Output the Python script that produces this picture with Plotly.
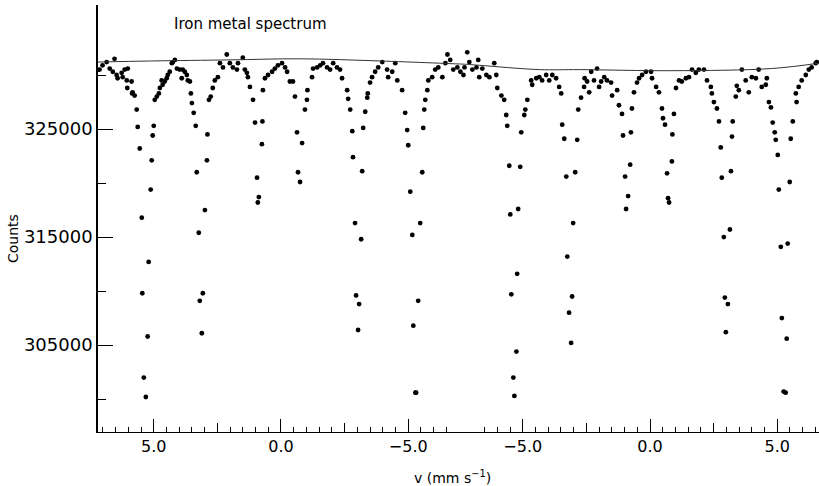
import plotly.graph_objects as go

# ---- data: first sweep half (velocity mm/s, counts) ----
v_half1 = [7.13, 7.01, 6.85, 6.73, 6.61, 6.54, 6.46, 6.42, 6.26, 6.22, 6.14, 6.06, 6.02, 6.04,
           5.87, 5.85, 5.83, 5.75, 5.67, 5.63, 5.55, 5.47, 5.45, 5.39, 5.31, 5.24, 5.20, 5.12,
           5.08, 5.04, 5.00, 4.96, 4.88, 4.80, 4.76, 4.69, 4.65, 4.57, 4.49, 4.45, 4.37, 4.29,
           4.25, 4.17, 4.09, 3.98, 3.90, 3.86, 3.78, 3.70, 3.66, 3.58, 3.54, 3.50, 3.43, 3.35,
           3.31, 3.23, 3.19, 3.11, 3.07, 2.99, 2.91, 2.89, 2.83, 2.76, 2.68, 2.60, 2.48, 2.40,
           2.28, 2.13, 2.01, 1.89, 1.73, 1.69, 1.50, 1.42, 1.34, 1.30, 1.22, 1.10, 1.02, 0.94,
           0.91, 0.87, 0.75, 0.73, 0.71, 0.63, 0.51, 0.35, 0.24, 0.12, -0.04, -0.16, -0.24,
           -0.35, -0.47, -0.55, -0.63, -0.67, -0.75, -0.83, -0.94, -1.02, -1.04, -1.22, -1.26,
           -1.42, -1.54, -1.65, -1.81, -1.93, -2.05, -2.20, -2.32, -2.40, -2.60, -2.64, -2.72,
           -2.80, -2.83, -2.91, -2.95, -3.03, -3.07, -3.15, -3.19, -3.23, -3.31, -3.39, -3.41,
           -3.50, -3.58, -3.70, -3.82, -3.98, -4.17, -4.21, -4.37, -4.49, -4.57, -4.76, -4.88,
           -4.96, -5.00, -5.08, -5.16, -5.20, -5.28, -5.31, -5.39, -5.47, -5.55, -5.59, -5.63,
           -5.67, -5.75, -5.79, -5.94, -6.06, -6.18, -6.34, -6.46, -6.54, -6.65, -6.77, -6.93,
           -7.05, -7.17]
counts_half1 = [330500, 330900, 331200, 330600, 330300, 331500, 330000, 329700, 330200, 329800,
                330500, 329500, 330600, 328800, 329400, 328300, 328400, 328100, 326800, 325200,
                323200, 316800, 309800, 302000, 300200, 305800, 312700, 319400, 322100, 324400,
                325300, 327700, 328000, 328300, 328800, 329500, 329100, 329400, 329700, 330000,
                330300, 331100, 331200, 331400, 330600, 330500, 329700, 330500, 330300, 330000,
                329500, 329400, 328300, 327400, 326500, 325300, 321000, 315400, 309100, 306100,
                309800, 317500, 322100, 324500, 327700, 328000, 328800, 329500, 329800, 331100,
                330700, 331900, 331100, 330700, 330500, 331100, 331600, 330500, 330200, 329800,
                328900, 327700, 325600, 320500, 318200, 318700, 323600, 325700, 328600, 329700,
                330000, 330300, 330600, 330900, 331100, 330700, 330300, 329400, 329400, 328000,
                324700, 321000, 320100, 323700, 326800, 327700, 328600, 329800, 330600, 330700,
                330900, 331100, 330700, 330500, 331100, 330700, 330500, 329700, 328600, 327800,
                326800, 324800, 322400, 316300, 309600, 306400, 308800, 314800, 321100, 325100,
                326600, 327900, 328300, 329300, 329800, 330300, 330700, 331200, 330500, 329800,
                330300, 331100, 329500, 328600, 326500, 324900, 323500, 319200, 315200, 306800,
                300600, 300600, 309100, 316300, 321000, 325100, 326800, 327700, 328600, 329500,
                329800, 330500, 330700, 329800, 331100, 331900, 331400, 330500, 330700, 330300,
                330000]

# ---- data: second sweep half (velocity mm/s, counts) ----
v_half2 = [-7.29, -7.18, -7.10, -6.98, -6.82, -6.75, -6.71, -6.59, -6.43, -6.31, -6.12, -6.04,
           -6.00, -5.84, -5.73, -5.65, -5.61, -5.53, -5.49, -5.45, -5.37, -5.33, -5.25, -5.22,
           -5.18, -5.10, -5.06, -4.94, -4.90, -4.82, -4.67, -4.63, -4.47, -4.35, -4.24, -4.08,
           -3.96, -3.84, -3.69, -3.57, -3.49, -3.45, -3.37, -3.29, -3.25, -3.18, -3.10, -3.06,
           -3.02, -2.94, -2.86, -2.82, -2.71, -2.59, -2.57, -2.47, -2.39, -2.31, -2.20, -2.08,
           -2.00, -1.92, -1.80, -1.69, -1.53, -1.49, -1.29, -1.22, -1.10, -1.06, -0.98, -0.94,
           -0.86, -0.78, -0.75, -0.71, -0.63, -0.51, -0.43, -0.31, -0.16, 0.04, 0.08, 0.24,
           0.35, 0.47, 0.51, 0.59, 0.67, 0.71, 0.75, 0.86, 0.88, 0.94, 1.02, 1.14, 1.25, 1.41,
           1.53, 1.65, 1.80, 1.92, 2.12, 2.24, 2.39, 2.43, 2.51, 2.63, 2.71, 2.78, 2.82, 2.90,
           2.94, 2.98, 3.06, 3.14, 3.18, 3.22, 3.25, 3.37, 3.41, 3.49, 3.61, 3.76, 3.88, 4.00,
           4.16, 4.27, 4.39, 4.55, 4.59, 4.67, 4.75, 4.82, 4.90, 4.94, 5.02, 5.06, 5.14, 5.18,
           5.25, 5.33, 5.37, 5.41, 5.49, 5.53, 5.61, 5.73, 5.76, 5.84, 5.96, 6.12, 6.24, 6.35,
           6.51, 6.55]
counts_half2 = [330700, 332100, 331200, 330500, 330700, 331400, 329800, 330600, 330000, 329800,
                331100, 330000, 328800, 328100, 327700, 326300, 325300, 321600, 317100, 309700,
                302000, 300300, 304400, 311600, 317600, 321500, 324700, 326300, 326800, 327700,
                329500, 329100, 329700, 329800, 329500, 330000, 329500, 330000, 329700, 328900,
                328300, 325400, 324100, 320600, 313200, 308000, 305200, 309500, 316300, 321000,
                324000, 326800, 327900, 328900, 329700, 329400, 328400, 330300, 329500, 330600,
                328900, 329400, 329800, 329500, 329300, 328100, 328600, 327200, 326400, 324400,
                320600, 317600, 318800, 321700, 324700, 326900, 328400, 329300, 329700, 330000,
                330300, 330300, 329700, 328900, 328400, 326900, 326000, 325400, 320900, 318600,
                318200, 322000, 324500, 326400, 328800, 329500, 329400, 329700, 329800, 330500,
                330200, 330500, 330500, 329500, 328900, 328300, 327500, 326900, 325700, 323300,
                320500, 315000, 309400, 306200, 308800, 315700, 321100, 324300, 325700, 328000,
                329000, 328600, 330500, 329500, 328400, 329800, 329700, 330500, 328900, 329100,
                329700, 327500, 327000, 325600, 324700, 324000, 322600, 319400, 314100, 307500,
                300700, 300600, 305600, 314400, 320100, 324100, 325700, 328300, 327500, 328900,
                329500, 330000, 330500, 330700, 331100, 331200]

# ---- baseline fit curve ----
fit_v_half1 = [7.20, 5.08, 2.00, -0.75, -3.90, -7.22]
fit_counts_half1 = [331200, 331300, 331400, 331500, 331300, 331000]
fit_v_half2 = [-7.28, -6.70, -4.35, -2.78, 0.86, 4.78, 6.64]
fit_counts_half2 = [331000, 330900, 330500, 330500, 330400, 330600, 331100]

# ---- axis labels ----
x_tick_velocity_half1 = [5.0, 0.0, -5.0]
x_tick_velocity_half2 = [-5.0, 0.0, 5.0]
y_major_ticks = [305000, 315000, 325000]
y_minor_ticks = [300000, 310000, 320000, 330000]

FOLD = 14.5  # the second sweep continues after the turning point at -7.25 mm/s


def pos1(v):
    return -v


def pos2(v):
    return v + FOLD


x1 = [pos1(v) for v in v_half1]
x2 = [pos2(v) for v in v_half2]
xf = [pos1(v) for v in fit_v_half1] + [pos2(v) for v in fit_v_half2]
yf = fit_counts_half1 + fit_counts_half2

FONT = "DejaVu Sans"
XR = [-7.19, 21.14]
YR = [296960, 336480]

fig = go.Figure()
fig.add_trace(go.Scatter(x=xf, y=yf, mode="lines", line=dict(color="#333", width=1, shape="spline"),
                         xaxis="x2", hoverinfo="skip", showlegend=False))
fig.add_trace(go.Scatter(x=x1 + x2, y=counts_half1 + counts_half2, mode="markers",
                         marker=dict(color="black", size=4.8), showlegend=False))

tickvals = [pos1(v) for v in x_tick_velocity_half1] + [pos2(v) for v in x_tick_velocity_half2]
ticktext = [("\u2212" if v < 0 else "") + f"{abs(v):.1f}" for v in x_tick_velocity_half1 + x_tick_velocity_half2]

minor_vals = []
k = -14
while k * 0.5 <= 21.0:
    u = k * 0.5
    if not (6.6 < u < 7.9) and all(abs(u - t) > 1e-6 for t in tickvals):
        minor_vals.append(u)
    k += 1

mid_vals = [pos1(2.5), pos1(-2.5), pos2(-2.5), pos2(2.5)]

fig.update_layout(
    width=819, height=486,
    margin=dict(l=98, r=0, t=5, b=54),
    paper_bgcolor="white", plot_bgcolor="white",
    font=dict(family=FONT, color="black"),
    xaxis=dict(range=XR, showline=True, linecolor="black", linewidth=1, mirror=False,
               ticks="inside", ticklen=13, tickwidth=1, tickcolor="black",
               tickvals=tickvals, ticktext=ticktext, tickfont=dict(family=FONT, size=16),
               showgrid=False, zeroline=False,
               minor=dict(tickvals=minor_vals, ticks="inside", ticklen=5, tickwidth=1,
                          tickcolor="black", showgrid=False)),
    xaxis2=dict(range=XR, overlaying="x", anchor="y", side="bottom", showline=False,
                ticks="inside", ticklen=9, tickwidth=1, tickcolor="black",
                tickvals=mid_vals, showticklabels=False, showgrid=False, zeroline=False),
    yaxis=dict(range=YR, showline=True, linecolor="black", linewidth=1.5,
               ticks="inside", ticklen=15, tickwidth=1, tickcolor="black",
               tickvals=y_major_ticks, ticktext=[str(t) for t in y_major_ticks],
               tickfont=dict(family=FONT, size=18),
               showgrid=False, zeroline=False,
               minor=dict(tickvals=y_minor_ticks, ticks="inside", ticklen=8, tickwidth=1,
                          tickcolor="black", showgrid=False)),
    annotations=[
        dict(text="Iron metal spectrum", xref="paper", yref="paper", x=0.1026, y=0.955,
             xanchor="left", yanchor="middle", showarrow=False, font=dict(family=FONT, size=15)),
        dict(text="Counts", xref="paper", yref="paper", x=-0.118, y=0.454, textangle=-90,
             xanchor="center", yanchor="middle", showarrow=False, font=dict(family=FONT, size=14)),
        dict(text="v (mm s<sup>\u22121</sup>)", xref="paper", yref="paper", x=0.491, y=-0.105,
             xanchor="center", yanchor="middle", showarrow=False, font=dict(family=FONT, size=14)),
    ],
)

fig.write_html("out.html")
